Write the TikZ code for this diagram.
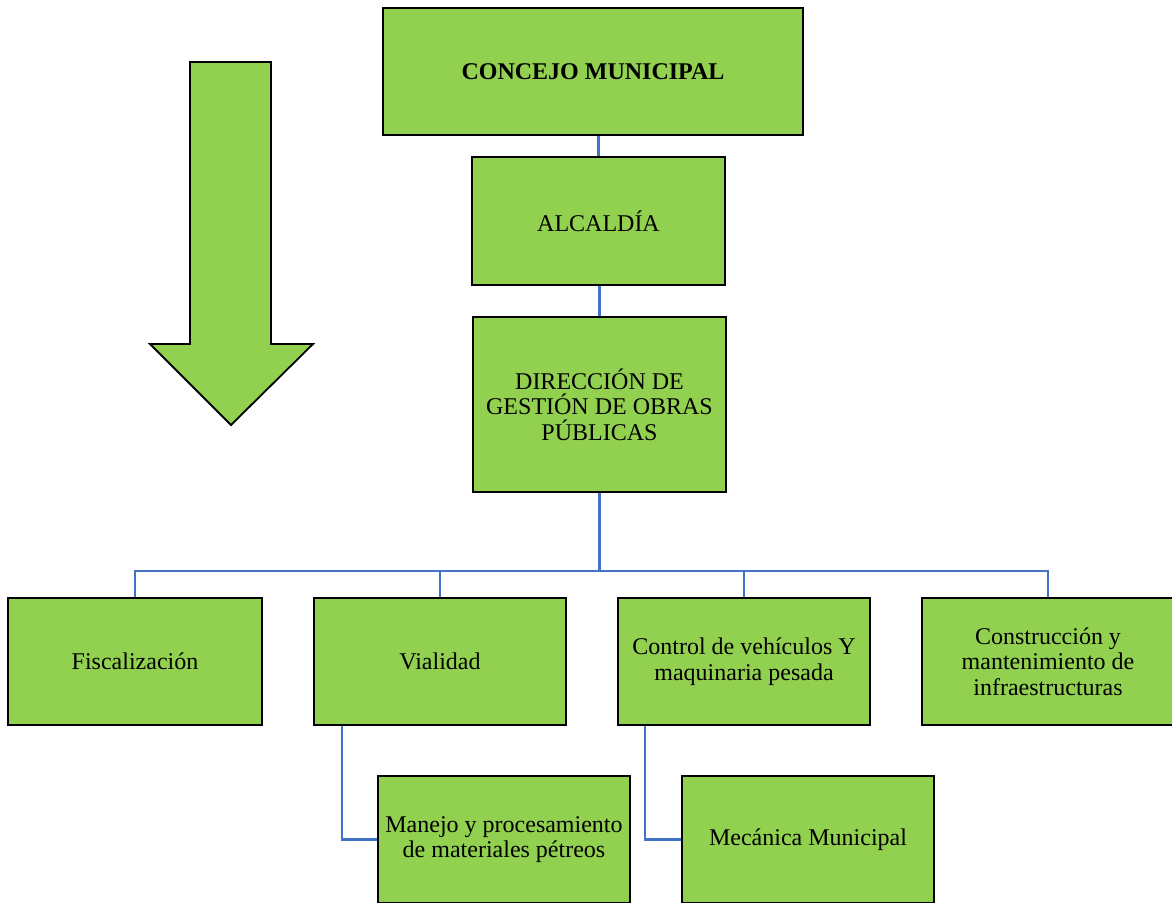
\documentclass[tikz,border=0pt]{standalone}
\usepackage{fontspec}
\setmainfont{Liberation Serif}
\definecolor{boxgreen}{HTML}{92D050}
\definecolor{linkblue}{HTML}{4472C4}
\tikzset{
  orgbox/.style={draw=black, fill=boxgreen, line width=2pt, rectangle,
    inner sep=2pt, align=center, text=black,
    font=\fontsize{24}{25.5}\selectfont},
  link/.style={draw=linkblue, line width=2.2pt},
}
\begin{document}
\begin{tikzpicture}[x=1pt,y=-1pt]
\useasboundingbox (0,0) rectangle (1172,902);
\clip (0,0) rectangle (1172,902);

% downward arrow on the left
\draw[fill=boxgreen, line width=1.8pt, line join=miter]
  (190,62) -- (271,62) -- (271,344) -- (313,344) -- (231,425)
  -- (150,344) -- (190,344) -- cycle;

% connectors, drawn first so the boxes sit on top of them
\coordinate (bus) at (599.5,571);
\coordinate (vtapx) at (342,0);
\coordinate (ctapx) at (645,0);

% hierarchy boxes
\node[orgbox, minimum width=420, minimum height=127] (con) at (593,71.5) {\bfseries CONCEJO MUNICIPAL};
\node[orgbox, minimum width=253, minimum height=128] (alc) at (598.5,221) {ALCALDÍA};
\node[orgbox, minimum width=253, minimum height=175] (dir) at (599.5,404.5) {DIRECCIÓN DE\\GESTIÓN DE OBRAS\\PÚBLICAS};

\node[orgbox, minimum width=254, minimum height=127] (fis) at (135,661.5) {Fiscalización};
\node[orgbox, minimum width=252, minimum height=127] (vial) at (440,661.5) {Vialidad};
\node[orgbox, minimum width=252, minimum height=127] (ctrl) at (744,661.5) {Control de vehículos Y\\maquinaria pesada};
\node[orgbox, minimum width=252, minimum height=127] (cons) at (1048,661.5) {Construcción y\\mantenimiento de\\infraestructuras};

\node[orgbox, minimum width=252, minimum height=127] (man) at (504,839.5) {Manejo y procesamiento\\de materiales pétreos};
\node[orgbox, minimum width=252, minimum height=127] (mec) at (808,839.5) {Mecánica Municipal};

\draw[link] (alc.north) -- (alc.north |- con.south);
\draw[link] (dir.north) -- (dir.north |- alc.south);
\draw[link] (dir.south) -- (bus);
\draw[link] (fis.north) |- (bus -| cons.north) -- (cons.north);
\draw[link] (vial.north) -- (vial.north |- bus);
\draw[link] (ctrl.north) -- (ctrl.north |- bus);
\draw[link] (vtapx |- vial.south) |- (man.west);
\draw[link] (ctapx |- ctrl.south) |- (mec.west);
\end{tikzpicture}
\end{document}
